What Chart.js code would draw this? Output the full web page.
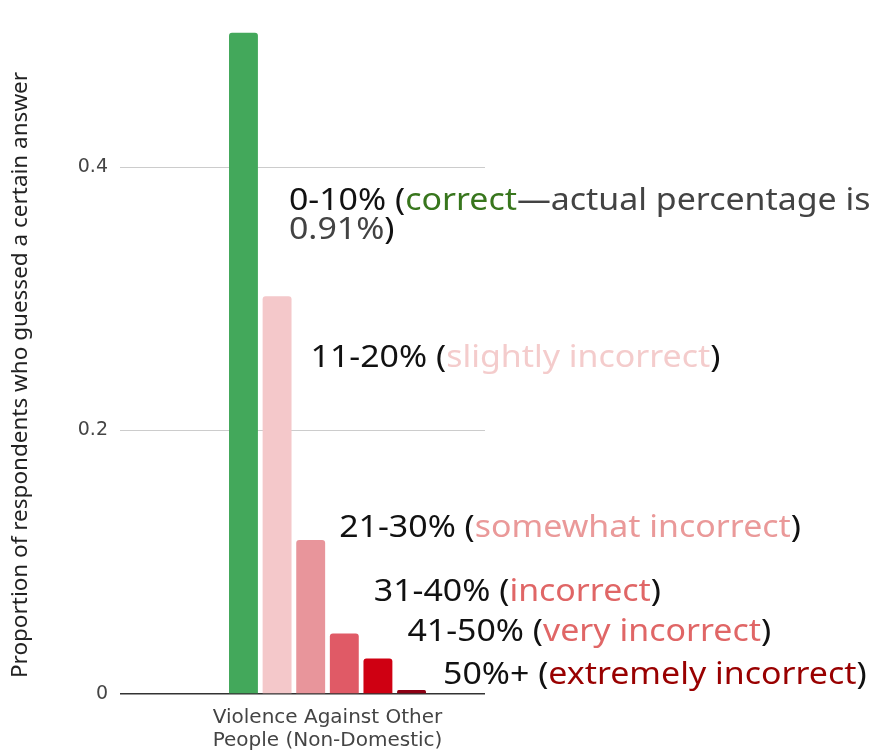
<!DOCTYPE html>
<html lang="en">
<head>
    <meta charset="UTF-8">
    <title>Violence Against Other People (Non-Domestic)</title>
    <script src="https://cdn.jsdelivr.net/npm/chart.js"></script>
    <style>
        html, body {
            margin: 0;
            padding: 0;
            background: #fff;
        }
        .chart-container {
            width: 875px;
            height: 754px;
        }
    </style>
</head>
<body>
    <div class="chart-container">
        <canvas id="guessChart"></canvas>
    </div>

    <script>
        // data
        const categories = [['Violence Against Other', 'People (Non-Domestic)']];
        const answerRanges = ['0-10%', '11-20%', '21-30%', '31-40%', '41-50%', '50%+'];
        const proportions = [0.502, 0.302, 0.117, 0.046, 0.027, 0.003];
        const verdicts = ['correct', 'slightly incorrect', 'somewhat incorrect', 'incorrect', 'very incorrect', 'extremely incorrect'];
        const yTicks = [0, 0.2, 0.4];
        const yTitle = 'Proportion of respondents who guessed a certain answer';
        const actualNote = '\u2014actual percentage is';
        const actualValue = '0.91%';

        const barColors = ['#43a85b', '#f4c8ca', '#e8959b', '#e05a66', '#cf0012', '#8c0013'];
        const verdictColors = ['#38761d', '#f4cccc', '#ea9999', '#e06666', '#e06666', '#990000'];

        // where each note sits: x offset from bar's right edge, y as a value on the scale
        const noteX = [31, 19, 14, 15, 15, 17];
        const noteY = [0.374, 0.255, 0.126, 0.0774, 0.047, 0.0144];
        const gridEnd = 485;
        const noteFont = '30px "Noto Sans", sans-serif';
        const noteStretch = 1.13;   // the reference text is wider than Noto Sans
        const axisFont = '"DejaVu Sans", sans-serif';

        const maskGrid = {
            id: 'maskGrid',
            beforeDatasetsDraw(chart) {
                const { ctx, chartArea } = chart;
                ctx.save();
                ctx.fillStyle = '#fff';
                ctx.fillRect(gridEnd, chartArea.top - 2, chartArea.right - gridEnd + 2, chartArea.bottom - chartArea.top + 4);
                ctx.restore();
            }
        };

        const yTitlePlugin = {
            id: 'yTitlePlugin',
            afterDraw(chart) {
                const { ctx } = chart;
                ctx.save();
                ctx.translate(21, 375);
                ctx.rotate(-Math.PI / 2);
                ctx.font = '22.5px "Noto Sans", sans-serif';
                ctx.fillStyle = '#222';
                ctx.textAlign = 'center';
                ctx.textBaseline = 'middle';
                ctx.fillText(yTitle, 0, 0);
                ctx.restore();
            }
        };

        const notes = {
            id: 'notes',
            afterDatasetsDraw(chart) {
                const { ctx } = chart;
                const y = chart.scales.y;
                ctx.save();
                ctx.font = noteFont;
                ctx.textBaseline = 'middle';
                ctx.textAlign = 'left';
                chart.data.datasets.forEach((ds, i) => {
                    const bar = chart.getDatasetMeta(i).data[0];
                    const startX = bar.x + bar.width / 2 + noteX[i];
                    const ty = y.getPixelForValue(noteY[i]);
                    const parts = [[answerRanges[i] + ' (', '#111'], [verdicts[i], verdictColors[i]]];
                    if (i === 0) parts.push([actualNote, '#434343']);
                    else parts.push([')', '#111']);
                    ctx.save();
                    ctx.translate(startX, 0);
                    ctx.scale(noteStretch, 1);
                    let x = 0;
                    parts.forEach(([t, c]) => {
                        ctx.fillStyle = c;
                        ctx.fillText(t, x, ty);
                        x += ctx.measureText(t).width;
                    });
                    if (i === 0) {
                        const ly = ty + 29;
                        ctx.fillStyle = '#434343';
                        ctx.fillText(actualValue, 0, ly);
                        ctx.fillStyle = '#111';
                        ctx.fillText(')', ctx.measureText(actualValue).width, ly);
                    }
                    ctx.restore();
                });
                ctx.restore();
            }
        };

        const ctx = document.getElementById('guessChart').getContext('2d');
        new Chart(ctx, {
            type: 'bar',
            data: {
                labels: categories,
                datasets: answerRanges.map((r, i) => ({
                    label: r,
                    data: [proportions[i]],
                    backgroundColor: barColors[i],
                    borderRadius: { topLeft: 3, topRight: 3 },
                    borderSkipped: 'bottom',
                    categoryPercentage: 0.486,
                    barPercentage: 0.86
                }))
            },
            options: {
                responsive: true,
                maintainAspectRatio: false,
                animation: false,
                layout: {
                    padding: { top: 9, right: 340, left: 0, bottom: 0 }
                },
                plugins: {
                    legend: { display: false },
                    tooltip: { enabled: false }
                },
                scales: {
                    x: {
                        grid: { display: false, drawTicks: false },
                        border: { display: false },
                        ticks: {
                            color: '#444',
                            padding: 13,
                            maxRotation: 0,
                            font: { family: axisFont, size: 20, lineHeight: 1.12 }
                        },
                        afterFit(scale) { scale.height = 60; }
                    },
                    y: {
                        min: 0,
                        max: 0.52,
                        afterBuildTicks(scale) {
                            scale.ticks = yTicks.map(v => ({ value: v }));
                        },
                        grid: {
                            color: (c) => c.tick && c.tick.value === 0 ? '#333' : '#ccc',
                            lineWidth: (c) => c.tick && c.tick.value === 0 ? 1.5 : 1,
                            drawTicks: false
                        },
                        border: { display: false },
                        ticks: {
                            color: '#444',
                            padding: 12,
                            font: { family: axisFont, size: 19 },
                            callback: (v) => String(v)
                        },
                        afterFit(scale) {
                            scale.width = 120;
                            scale.paddingTop = 0;
                            scale.paddingBottom = 0;
                        }
                    }
                }
            },
            plugins: [maskGrid, notes, yTitlePlugin]
        });
    </script>
</body>
</html>
